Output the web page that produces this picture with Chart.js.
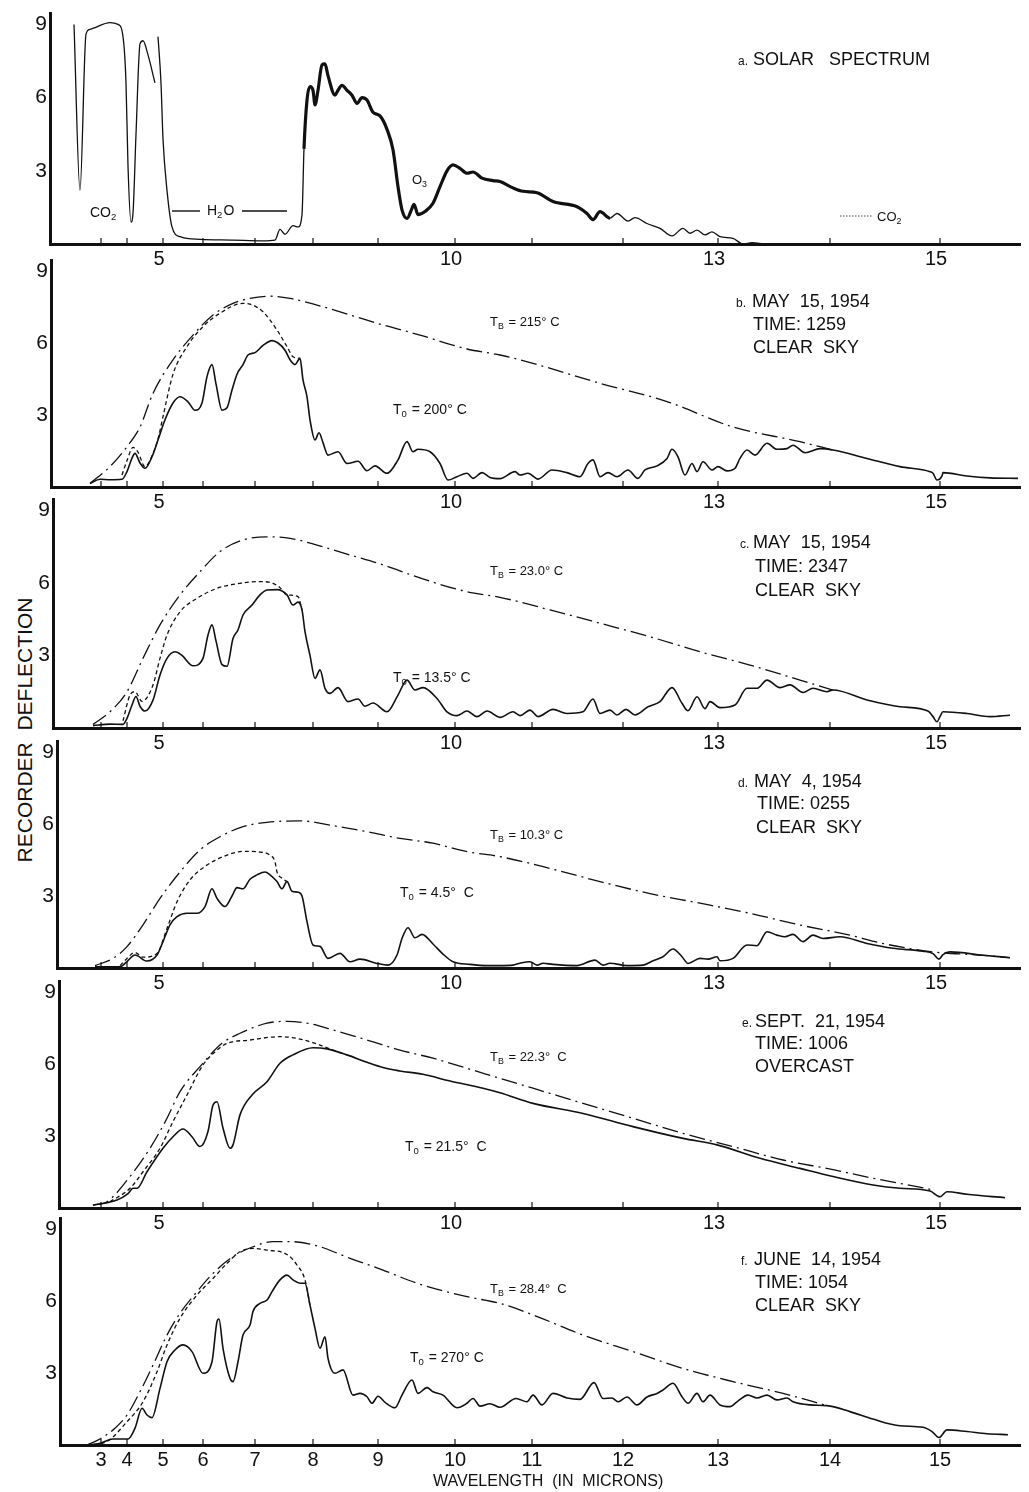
<!DOCTYPE html>
<html>
<head>
<meta charset="utf-8">
<title>Sky radiation spectra</title>
<script src="https://cdn.jsdelivr.net/npm/chart.js@4.4.1/dist/chart.umd.min.js"></script>
<style>
  html, body { margin: 0; padding: 0; background: #fff; }
  #page { position: relative; width: 1029px; height: 1492px; overflow: hidden; background: #fff; }
  #page canvas { position: absolute; left: 0; }
  #ytitle {
    position: absolute; left: 25px; top: 730px;
    transform: translate(-50%, -50%) rotate(-90deg);
    white-space: pre; color: #111;
    font: 21px 'Liberation Sans', Arial, sans-serif;
  }
</style>
</head>
<body>
<div id="page">
  <div id="ytitle">RECORDER  DEFLECTION</div>
</div>
<script>
// x = recorder chart position (arbitrary divisions), y = recorder deflection
const tickWave = [3, 4, 5, 6, 7, 8, 9, 10, 11, 12, 13, 14, 15];
const tickPos = [5.1, 7.7, 11.3, 15.3, 20.5, 26.3, 32.8, 40.5, 48.2, 57.3, 66.8, 78.0, 89.0];
const sparseWave = [5, 10, 13, 15];
const yTicks = [3, 6, 9];

// a. solar spectrum (null = pen lifted)
const solar = [[2.4,9.0],[3.0,2.2],[3.6,8.6],[4.0,8.8],[6.0,9.07],[6.8,9.0],[7.3,8.5],[7.6,6.6],[7.8,3.2],[8.1,0.9],[8.3,1.26],[8.6,4.5],[9.0,8.2],[9.3,8.33],[9.8,7.75],[10.5,6.6],[10.65,null],
  [10.8,8.5],[11.1,6.6],[11.3,4.3],[11.7,2.2],[12.2,0.7],[13.0,0.3],[15.0,0.19],[18.3,0.16],[21.3,0.13],[22.5,0.16],[23.0,0.6],[23.5,0.4],[24.3,0.75],[24.8,0.7],[25.2,1.2],[25.4,3.9],[25.7,5.9],[26.0,6.45],[26.3,6.3],[26.5,5.7],[26.8,6.3],[27.2,7.34],[27.5,7.38],[27.8,6.9],[28.5,6.1],[28.8,6.3],[29.2,6.5],[29.7,6.3],[30.2,6.1],[30.7,5.76],[31.2,6.0],[31.7,5.9],[32.3,5.4],[33.0,5.25],[33.7,4.7],[34.3,3.86],[34.8,2.35],[35.2,1.4],[35.7,1.05],[36.2,1.46],[36.4,1.63],[36.8,1.2],[37.5,1.33],[38.3,1.67],[39.0,2.35],[39.7,3.0],[40.3,3.24],[41.0,3.1],[41.7,2.9],[42.3,2.95],[43.2,2.7],[44.3,2.6],[45.0,2.56],[46.3,2.3],[47.3,2.16],[48.7,2.1],[50.3,1.74],[52.7,1.53],[53.7,1.25],[54.3,1.0],[55.0,1.33],[56.0,1.06],[56.7,1.25],[57.8,0.94],[58.5,1.08],[59.7,0.84],[61.0,0.64],[62.2,0.33],[63.3,0.64],[64.0,0.44],[64.7,0.57],[65.5,0.37],[66.2,0.5],[67.0,0.3],[68.3,0.23],[69.3,0.0],[70.2,0.06],[71.3,0.0]];

// b. May 15, 1954, 1259
const bSky = [[4.0,0.15],[5.0,0.32],[6.0,0.3],[7.2,0.32],[7.7,0.64],[8.2,1.2],[8.5,1.4],[9.0,1.0],[9.5,0.78],[10.2,1.26],[10.8,1.96],[11.5,2.8],[12.3,3.5],[13.0,3.76],[13.8,3.55],[14.5,3.2],[15.2,3.5],[15.7,4.6],[16.2,5.1],[16.6,4.3],[17.2,3.2],[17.7,3.3],[18.2,4.04],[18.7,4.7],[19.3,5.1],[19.8,5.5],[20.5,5.6],[21.3,5.9],[22.2,6.1],[22.8,6.0],[23.5,5.7],[24.0,5.3],[24.5,5.1],[25.0,5.36],[25.3,4.46],[25.7,3.76],[26.0,2.8],[26.5,1.96],[26.9,2.26],[27.3,1.85],[27.8,1.33],[28.8,1.47],[29.7,0.98],[30.8,1.07],[31.7,0.68],[32.5,0.88],[33.7,0.57],[34.8,1.13],[35.7,1.89],[36.3,1.47],[36.8,1.57],[38.0,1.47],[39.0,0.98],[39.8,0.29],[40.7,0.43],[41.7,0.57],[42.3,0.36],[43.2,0.6],[44.0,0.4],[45.0,0.35],[46.5,0.64],[47.0,0.5],[47.8,0.57],[48.8,0.33],[50.2,0.71],[51.7,0.6],[53.0,0.43],[53.8,0.98],[54.3,1.13],[55.0,0.43],[55.8,0.6],[56.7,0.43],[57.8,0.71],[58.8,0.36],[59.5,0.71],[60.7,0.88],[61.7,1.19],[62.2,1.57],[62.8,1.26],[63.5,0.5],[64.2,0.98],[64.7,0.64],[65.3,1.05],[66.2,0.71],[66.8,0.85],[67.7,0.67],[68.5,0.78],[69.0,1.19],[69.7,1.54],[70.5,1.33],[71.7,1.82],[72.7,1.57],[73.7,1.6],[74.3,1.74],[75.5,1.43],[77.0,1.6],[78.3,1.54],[81.7,1.19],[85.0,0.85],[88.0,0.64],[88.3,0.57],[88.7,0.29],[89.2,0.46],[89.3,0.6],[91.7,0.46],[94.0,0.38],[96.8,0.36]];
const bBlack = [[4.0,0.15],[6.0,0.85],[7.7,1.68],[9.0,2.5],[10.3,3.9],[12.3,5.3],[14.3,6.33],[16.3,7.17],[18.3,7.65],[20.0,7.86],[22.0,7.95],[24.0,7.86],[26.7,7.58],[30.0,7.17],[33.3,6.75],[37.0,6.33],[41.7,5.75],[45.0,5.5],[48.3,5.15],[55.0,4.32],[61.7,3.56],[68.3,2.5],[75.0,1.89],[78.3,1.54]];
const bDash = [[7.2,0.5],[7.7,1.1],[8.3,1.65],[8.8,1.45],[9.5,0.85],[10.2,1.3],[10.8,2.0],[11.3,2.93],[12.3,4.7],[13.7,5.85],[15.3,6.68],[17.0,7.24],[19.3,7.65],[20.0,7.62],[21.3,7.3],[22.7,6.54],[23.7,5.85],[24.3,5.43],[25.0,5.36]];

// c. May 15, 1954, 2347
const cSky = [[4.3,0.1],[6.0,0.16],[7.3,0.15],[7.7,0.4],[8.2,0.95],[8.6,1.3],[9.0,0.9],[9.5,0.7],[10.3,1.15],[11.0,2.19],[11.7,2.88],[12.5,3.15],[13.2,3.0],[14.3,2.57],[15.3,2.88],[15.8,3.84],[16.2,4.26],[16.6,3.6],[17.2,2.62],[17.7,2.55],[18.3,3.7],[18.8,4.05],[19.3,4.67],[20.2,5.08],[21.0,5.5],[21.7,5.7],[22.7,5.72],[23.7,5.5],[24.3,5.08],[24.8,5.2],[25.2,4.88],[25.5,3.98],[26.0,3.0],[26.5,2.05],[27.0,2.4],[27.5,1.64],[28.0,1.43],[28.8,1.67],[29.8,1.09],[30.8,1.2],[31.5,0.9],[32.3,1.03],[33.7,0.67],[34.8,1.36],[35.7,1.98],[36.5,1.57],[37.3,1.67],[38.7,1.22],[39.7,0.67],[40.7,0.51],[41.7,0.7],[42.7,0.47],[43.7,0.7],[45.0,0.44],[46.3,0.67],[47.0,0.51],[48.0,0.74],[48.8,0.47],[50.3,0.77],[51.7,0.6],[53.3,0.67],[54.3,1.2],[55.0,0.6],[56.0,0.74],[56.7,0.54],[57.6,0.77],[58.5,0.54],[59.8,0.88],[61.0,1.09],[62.2,1.67],[63.2,1.02],[63.8,0.71],[64.7,1.29],[65.5,0.8],[66.0,1.09],[67.0,0.84],[68.5,0.95],[69.7,1.64],[70.7,1.64],[71.7,1.98],[73.0,1.67],[74.0,1.78],[75.3,1.47],[76.3,1.64],[77.7,1.5],[78.3,1.57],[81.7,1.16],[85.0,0.88],[87.8,0.7],[88.3,0.47],[88.7,0.26],[89.0,0.47],[89.3,0.67],[91.7,0.6],[94.0,0.47],[96.0,0.53]];
const cBlack = [[4.3,0.15],[6.0,0.67],[7.7,1.5],[9.3,2.88],[11.0,4.26],[13.0,5.5],[15.0,6.46],[17.0,7.29],[19.3,7.77],[21.7,7.9],[24.0,7.84],[26.7,7.56],[30.0,7.15],[33.3,6.74],[37.0,6.2],[41.7,5.63],[45.0,5.4],[50.0,4.88],[55.0,4.33],[60.0,3.77],[65.0,3.15],[70.0,2.6],[75.0,1.98],[78.3,1.57]];
const cDash = [[7.3,0.3],[8.0,1.36],[8.5,1.5],[9.2,1.1],[10.3,1.78],[11.0,2.88],[11.7,3.84],[13.0,4.8],[14.7,5.36],[16.7,5.77],[19.0,5.98],[21.0,6.05],[22.3,5.98],[23.0,5.8],[23.7,5.5],[24.8,5.43],[25.2,4.88]];

// d. May 4, 1954, 0255
const dSky = [[4.5,0.05],[7.0,0.05],[7.7,0.27],[8.5,0.54],[9.7,0.29],[10.7,0.54],[11.3,1.1],[12.0,1.8],[12.7,2.14],[13.7,2.28],[14.7,2.28],[15.5,2.56],[16.2,3.3],[16.7,2.9],[17.5,2.56],[18.2,3.0],[18.7,3.35],[19.3,3.3],[20.0,3.7],[20.7,3.88],[21.5,4.0],[22.0,3.88],[22.7,3.6],[23.2,3.3],[23.7,3.6],[24.2,3.2],[24.8,3.16],[25.2,3.0],[25.7,1.93],[26.3,0.96],[27.0,0.9],[27.8,0.4],[29.0,0.61],[30.0,0.26],[31.0,0.37],[32.7,0.19],[33.8,0.12],[34.7,0.54],[35.2,1.23],[35.8,1.68],[36.5,1.26],[37.2,1.4],[38.3,1.0],[39.3,0.58],[40.3,0.26],[42.0,0.15],[43.7,0.1],[45.0,0.1],[46.3,0.12],[47.0,0.2],[48.0,0.26],[48.7,0.12],[49.3,0.2],[50.3,0.15],[52.7,0.1],[54.5,0.33],[55.3,0.12],[56.0,0.2],[57.7,0.1],[59.3,0.12],[60.3,0.3],[61.3,0.47],[62.3,0.79],[63.2,0.47],[63.8,0.19],[65.0,0.4],[65.8,0.37],[66.7,0.47],[67.0,0.3],[68.3,0.4],[69.7,0.96],[70.7,0.93],[71.7,1.51],[72.7,1.37],[73.5,1.3],[74.3,1.4],[75.3,1.1],[76.3,1.37],[77.3,1.23],[79.0,1.3],[81.7,1.02],[84.3,0.82],[87.3,0.7],[88.3,0.6],[88.9,0.37],[89.3,0.56],[90.0,0.67],[93.3,0.53],[96.0,0.43]];
const dBlack = [[4.5,0.1],[6.3,0.4],[7.7,0.89],[9.3,1.8],[11.0,2.9],[13.0,4.0],[15.0,4.92],[17.0,5.47],[19.3,5.89],[21.7,6.07],[25.0,6.13],[28.3,5.93],[31.7,5.68],[35.0,5.4],[38.3,5.2],[41.7,4.85],[45.0,4.64],[50.0,4.15],[55.0,3.6],[60.0,3.1],[65.0,2.7],[70.0,2.28],[75.0,1.79],[80.0,1.37],[83.3,1.02],[88.3,0.67],[93.3,0.53],[96.0,0.43]];
const dDash = [[7.0,0.1],[7.7,0.4],[8.5,0.65],[9.3,0.45],[10.7,0.6],[11.7,1.65],[12.7,2.76],[14.0,3.67],[15.7,4.29],[17.7,4.7],[19.3,4.86],[21.0,4.83],[22.0,4.7],[22.5,4.43],[22.7,4.0],[23.2,3.74],[23.7,3.6]];

// e. Sept. 21, 1954, 1006 (overcast)
const eSky = [[4.3,0.12],[6.7,0.33],[7.8,0.6],[8.3,0.82],[8.7,0.82],[9.7,1.51],[11.3,2.49],[12.3,2.97],[13.3,3.29],[14.2,2.97],[15.0,2.56],[15.8,3.19],[16.3,4.29],[16.7,4.43],[17.3,3.33],[18.0,2.49],[18.3,2.63],[19.0,3.88],[20.2,4.71],[21.7,5.26],[23.0,6.03],[24.3,6.38],[26.3,6.68],[27.7,6.63],[29.7,6.38],[31.7,6.07],[33.3,5.85],[35.0,5.71],[37.3,5.57],[40.0,5.29],[43.3,4.99],[45.0,4.8],[48.3,4.36],[53.3,3.94],[58.3,3.39],[63.3,2.9],[66.7,2.63],[71.0,2.07],[75.0,1.65],[78.3,1.31],[82.3,0.96],[85.0,0.82],[88.0,0.71],[89.0,0.47],[89.7,0.68],[91.7,0.57],[95.5,0.43]];
const eBlack = [[4.3,0.12],[5.7,0.26],[8.0,1.31],[10.0,2.49],[11.7,3.74],[13.0,4.85],[15.0,5.89],[17.2,6.86],[19.0,7.28],[21.7,7.7],[23.7,7.78],[26.0,7.68],[28.3,7.42],[31.7,7.0],[35.0,6.58],[38.3,6.24],[41.7,5.82],[45.0,5.4],[48.3,4.99],[53.3,4.36],[58.3,3.74],[63.3,3.11],[68.3,2.56],[73.3,2.0],[78.3,1.6],[82.3,1.24],[86.7,0.89],[88.3,0.75]];
const eDash = [[6.0,0.26],[8.0,0.82],[9.3,1.51],[11.0,2.49],[12.3,3.6],[13.7,4.71],[15.3,5.96],[16.7,6.58],[17.7,6.86],[20.0,7.0],[23.0,7.14],[25.0,7.04],[27.0,6.79],[28.3,6.58],[29.7,6.38]];

// f. June 14, 1954, 1054
const fSky = [[3.7,0.0],[5.0,0.07],[6.3,0.25],[7.8,0.25],[8.5,0.7],[9.2,1.53],[9.7,1.25],[10.2,1.14],[11.0,2.36],[11.7,3.47],[12.5,3.96],[13.3,4.17],[14.2,3.89],[15.3,2.99],[16.2,3.47],[16.7,5.14],[16.9,5.25],[17.3,4.03],[18.0,2.78],[18.3,2.64],[18.8,3.47],[19.3,4.58],[20.0,5.0],[20.3,5.56],[21.0,5.9],[21.7,6.04],[22.3,6.46],[23.0,6.88],[23.7,7.08],[24.3,6.88],[25.0,6.74],[25.5,6.74],[26.0,5.83],[26.5,4.86],[27.0,4.03],[27.5,4.51],[27.8,3.61],[28.5,2.99],[29.3,3.13],[30.3,2.08],[31.0,2.15],[31.7,2.01],[32.2,1.74],[32.8,2.03],[33.5,1.78],[34.5,1.55],[35.2,2.08],[36.2,2.71],[36.8,2.15],[37.7,2.39],[38.3,2.22],[39.3,2.08],[40.7,1.55],[41.7,1.74],[42.3,1.94],[43.0,1.62],[44.0,1.72],[45.0,1.57],[46.6,1.94],[47.7,1.8],[48.3,2.08],[49.2,1.67],[50.3,2.15],[51.7,1.96],[53.0,1.9],[54.4,2.6],[55.3,1.94],[56.2,1.96],[56.8,1.8],[57.7,2.0],[58.7,1.67],[59.7,2.0],[60.7,2.15],[61.3,2.29],[62.3,2.57],[63.2,2.01],[63.8,1.74],[64.7,2.15],[65.3,1.8],[66.0,2.08],[67.0,1.67],[68.0,1.6],[68.7,1.8],[69.8,2.08],[70.7,1.96],[71.7,2.08],[72.7,1.88],[73.7,1.96],[74.3,1.8],[76.0,1.67],[77.7,1.64],[80.0,1.39],[82.3,1.08],[85.0,0.8],[87.3,0.74],[88.2,0.56],[88.9,0.31],[89.7,0.63],[91.7,0.56],[93.7,0.47],[95.8,0.43]];
const fBlack = [[3.7,0.0],[5.0,0.25],[6.5,0.7],[7.7,1.25],[9.0,2.22],[10.3,3.33],[11.7,4.58],[13.0,5.49],[14.7,6.39],[16.3,7.15],[18.3,7.85],[20.3,8.26],[22.3,8.47],[24.3,8.47],[26.7,8.3],[30.0,7.78],[33.3,7.29],[36.7,6.74],[41.7,6.18],[45.0,5.9],[48.3,5.42],[53.3,4.58],[58.3,3.89],[63.3,3.19],[68.3,2.64],[73.3,2.15],[77.7,1.64]];
const fDash = [[3.7,0.0],[5.7,0.15],[7.7,0.97],[9.3,1.8],[10.7,3.05],[11.7,4.17],[13.0,5.28],[14.7,6.25],[16.3,6.94],[17.7,7.57],[19.0,8.05],[20.3,8.19],[21.7,8.12],[23.7,7.94],[24.7,7.5],[25.5,6.88],[26.0,5.83]];

const FONT = "'Liberation Sans', Arial, sans-serif";
Chart.defaults.font.family = FONT;
Chart.defaults.color = '#111';

// page layout of each strip (y0 = pixel row of zero deflection, ppu = px per unit, left = axis column)
const panels = [
  { key: 'a', y0: 244, ppu: 24.4, left: 50, sets: [[solar, 'solar']], notes: [
    { t: 'a.', x: 738, y: 62, s: 12 }, { t: 'SOLAR   SPECTRUM', x: 753, y: 60, s: 18 },
    { t: 'CO_2', x: 90, y: 213, s: 14 }, { line: [172, 200, 211] }, { t: 'H_2O', x: 207, y: 211, s: 14 }, { line: [242, 287, 211] },
    { t: 'O_3', x: 412, y: 180, s: 13 }, { dots: [840, 873, 216] }, { t: 'CO_2', x: 877, y: 217, s: 13 } ] },
  { key: 'b', y0: 487, ppu: 24, left: 51, sets: [[bBlack, 'dashdot'], [bDash, 'dash'], [bSky, 'solid']], notes: [
    { t: 'b.', x: 736, y: 304, s: 12 }, { t: 'MAY  15, 1954', x: 752, y: 302, s: 18 },
    { t: 'TIME: 1259', x: 753, y: 325, s: 18 }, { t: 'CLEAR  SKY', x: 753, y: 348, s: 18 },
    { t: 'T_B = 215° C', x: 490, y: 322, s: 13 }, { t: 'T_0 = 200° C', x: 393, y: 410, s: 14 } ] },
  { key: 'c', y0: 728, ppu: 24.2, left: 53, sets: [[cBlack, 'dashdot'], [cDash, 'dash'], [cSky, 'solid']], notes: [
    { t: 'c.', x: 740, y: 545, s: 12 }, { t: 'MAY  15, 1954', x: 753, y: 543, s: 18 },
    { t: 'TIME: 2347', x: 755, y: 567, s: 18 }, { t: 'CLEAR  SKY', x: 755, y: 591, s: 18 },
    { t: 'T_B = 23.0° C', x: 490, y: 571, s: 13 }, { t: 'T_0 = 13.5° C', x: 393, y: 678, s: 14 } ] },
  { key: 'd', y0: 968, ppu: 24, left: 57, sets: [[dBlack, 'dashdot'], [dDash, 'dash'], [dSky, 'solid']], notes: [
    { t: 'd.', x: 738, y: 784, s: 12 }, { t: 'MAY  4, 1954', x: 754, y: 782, s: 18 },
    { t: 'TIME: 0255', x: 757, y: 804, s: 18 }, { t: 'CLEAR  SKY', x: 756, y: 828, s: 18 },
    { t: 'T_B = 10.3° C', x: 490, y: 835, s: 13 }, { t: 'T_0 = 4.5°  C', x: 400, y: 893, s: 14 } ] },
  { key: 'e', y0: 1208, ppu: 24, left: 59, sets: [[eBlack, 'dashdot'], [eDash, 'dash'], [eSky, 'solid']], notes: [
    { t: 'e.', x: 742, y: 1024, s: 12 }, { t: 'SEPT.  21, 1954', x: 755, y: 1022, s: 18 },
    { t: 'TIME: 1006', x: 755, y: 1044, s: 18 }, { t: 'OVERCAST', x: 755, y: 1067, s: 18 },
    { t: 'T_B = 22.3°  C', x: 490, y: 1057, s: 13 }, { t: 'T_0 = 21.5°  C', x: 405, y: 1147, s: 14 } ] },
  { key: 'f', y0: 1445, ppu: 24, left: 60, bottom: 47, all: true, sets: [[fBlack, 'dashdot'], [fDash, 'dash'], [fSky, 'solid']], notes: [
    { t: 'f.', x: 741, y: 1262, s: 12 }, { t: 'JUNE  14, 1954', x: 754, y: 1260, s: 18 },
    { t: 'TIME: 1054', x: 755, y: 1283, s: 18 }, { t: 'CLEAR  SKY', x: 755, y: 1306, s: 18 },
    { t: 'T_B = 28.4°  C', x: 490, y: 1289, s: 13 }, { t: 'T_0 = 270° C', x: 410, y: 1358, s: 14 },
    { t: 'WAVELENGTH  (IN  MICRONS)', x: 433, y: 1482, s: 16 } ] },
];

function drawRich(ctx, str, x, y, size) {
  let cx = x;
  str.split(/(_.)/).forEach(part => {
    if (!part) return;
    if (part[0] === '_' && part.length === 2) {
      ctx.font = (size * 0.68) + 'px ' + FONT;
      ctx.fillText(part[1], cx, y + size * 0.32);
      cx += ctx.measureText(part[1]).width + 1;
    } else {
      ctx.font = size + 'px ' + FONT;
      ctx.fillText(part, cx, y);
      cx += ctx.measureText(part).width;
    }
  });
}

function notesPlugin(panel) {
  return {
    id: 'notes_' + panel.key,
    afterDraw(chart) {
      const ctx = chart.ctx;
      const xs = chart.scales.x;
      const bottom = chart.chartArea.bottom;
      ctx.save();
      ctx.fillStyle = '#111';
      ctx.strokeStyle = '#111';
      ctx.lineWidth = 1.2;
      // small inward tick marks on the wavelength axis
      tickPos.forEach(v => {
        const px = xs.getPixelForValue(v);
        ctx.beginPath();
        ctx.moveTo(px, bottom);
        ctx.lineTo(px, bottom - 6);
        ctx.stroke();
      });
      ctx.textBaseline = 'middle';
      panel.notes.forEach(n => {
        if (n.line || n.dots) {
          const [x1, x2, y] = n.line || n.dots;
          ctx.setLineDash(n.dots ? [1.5, 1.5] : []);
          ctx.lineWidth = n.dots ? 0.8 : 1.4;
          ctx.beginPath();
          ctx.moveTo(x1, y - panel.top);
          ctx.lineTo(x2, y - panel.top);
          ctx.stroke();
          ctx.setLineDash([]);
        } else {
          drawRich(ctx, n.t, n.x, n.y - panel.top, n.s);
        }
      });
      ctx.restore();
    }
  };
}

function makeDataset(points, kind) {
  const ds = {
    data: points.map(p => ({ x: p[0], y: p[1] })),
    borderColor: '#111',
    borderWidth: kind === 'solid' ? 1.6 : 1.3,
    borderDash: kind === 'dash' ? [4, 3] : kind === 'dashdot' ? [16, 5, 2, 5] : [],
    pointRadius: 0,
    cubicInterpolationMode: 'monotone',
    fill: false,
    spanGaps: false,
  };
  if (kind === 'solar') {
    // heavier trace over the atmospheric window
    ds.segment = {
      borderWidth: c => (c.p0.parsed.x >= 25.3 && c.p1.parsed.x <= 56.5) ? 3.2 : 1.3
    };
  }
  return ds;
}

const page = document.getElementById('page');

panels.forEach(panel => {
  const bottomSpace = panel.bottom || 30;
  panel.top = Math.round(panel.y0 - 9.5 * panel.ppu);
  const height = panel.y0 + bottomSpace - panel.top;
  const yMax = (panel.y0 - panel.top) / panel.ppu;
  // keep 10 px per division whatever the axis column is
  const xMin = (panel.left - 50) / 10;

  const canvas = document.createElement('canvas');
  canvas.width = 1029;
  canvas.height = height;
  canvas.style.top = panel.top + 'px';
  canvas.style.width = '1029px';
  canvas.style.height = height + 'px';
  page.appendChild(canvas);

  new Chart(canvas.getContext('2d'), {
    type: 'line',
    data: { datasets: panel.sets.map(s => makeDataset(s[0], s[1])) },
    options: {
      responsive: false,
      animation: false,
      devicePixelRatio: 1,
      layout: { padding: { left: 0, right: 9, top: 0, bottom: 0 } },
      plugins: { legend: { display: false }, tooltip: { enabled: false } },
      scales: {
        x: {
          type: 'linear',
          min: xMin,
          max: 97,
          afterBuildTicks: s => { s.ticks = tickPos.map(v => ({ value: v })); },
          afterFit: s => { s.height = bottomSpace; s.paddingLeft = 0; s.paddingRight = 0; },
          ticks: {
            autoSkip: false,
            maxRotation: 0,
            padding: 3,
            labelOffset: panel.all ? 0 : -4,
            font: { size: 20 },
            color: '#111',
            callback: (v, i) => {
              const w = tickWave[i];
              return (panel.all || sparseWave.includes(w)) ? String(w) : '';
            }
          },
          grid: { display: false, drawTicks: false },
          border: { display: true, width: 3, color: '#111' }
        },
        y: {
          min: 0,
          max: yMax,
          afterBuildTicks: s => { s.ticks = yTicks.map(v => ({ value: v })); },
          afterFit: s => { s.width = panel.left; s.paddingTop = 0; s.paddingBottom = 0; },
          ticks: { font: { size: 21 }, color: '#111', padding: 3 },
          grid: { display: false, drawTicks: false },
          border: { display: true, width: 3, color: '#111' }
        }
      }
    },
    plugins: [notesPlugin(panel)]
  });
});
</script>
</body>
</html>
